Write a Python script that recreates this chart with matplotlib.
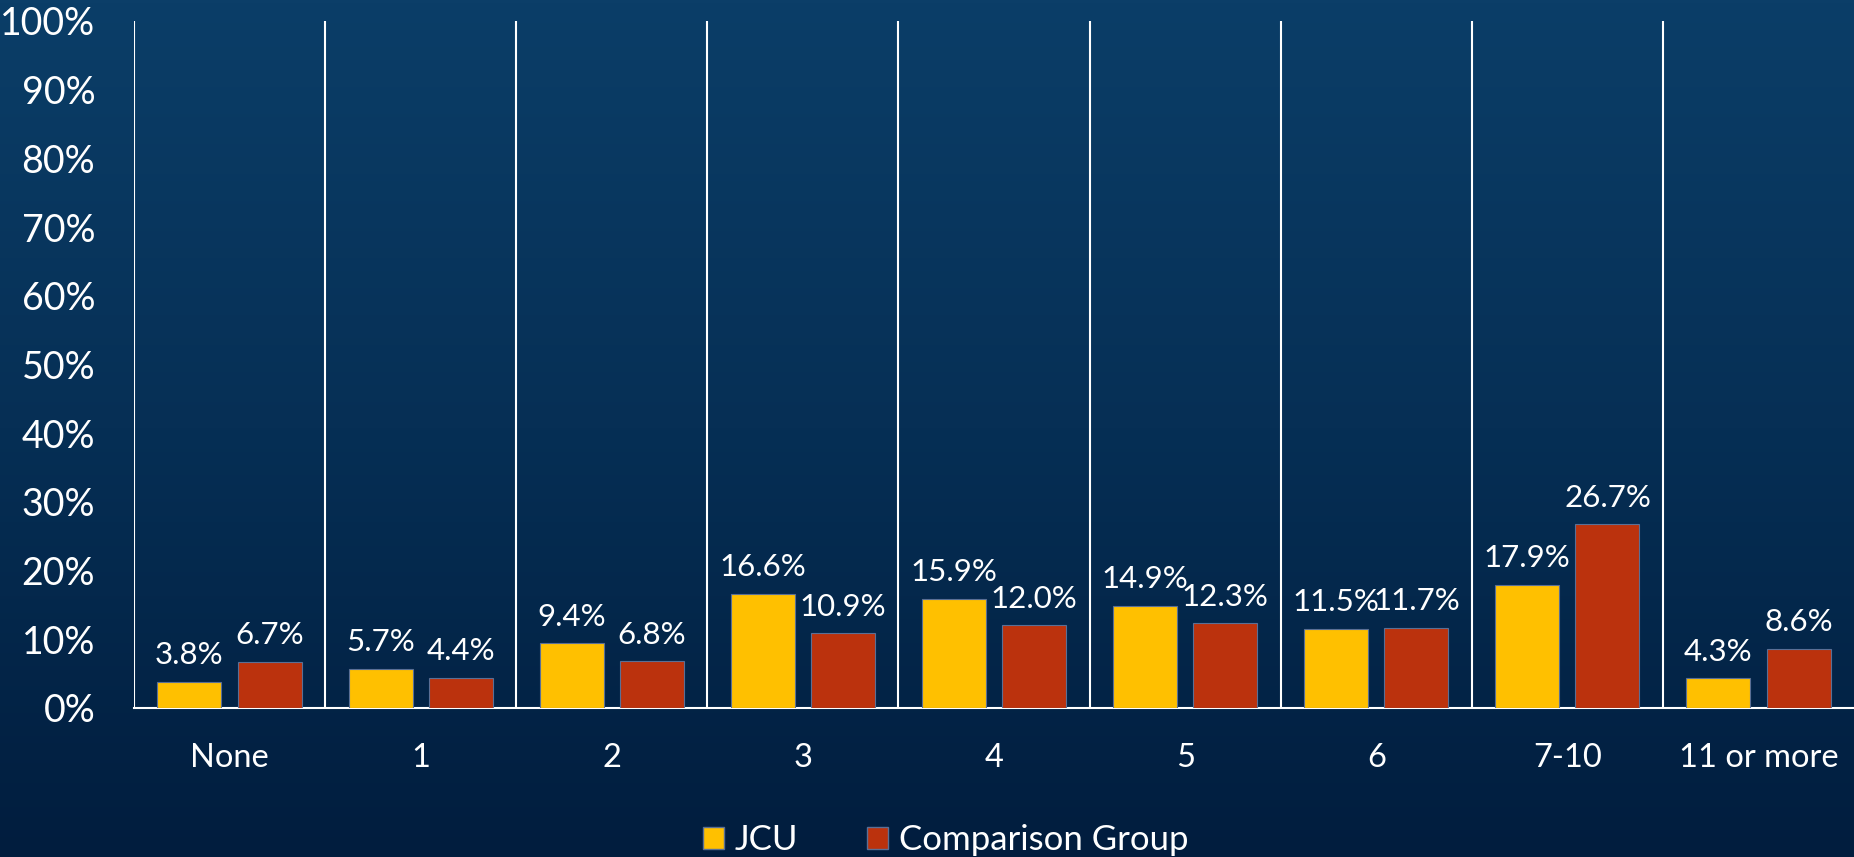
import matplotlib
matplotlib.use("Agg")
import matplotlib.pyplot as plt
import numpy as np
from matplotlib.patches import Patch
from matplotlib.colors import LinearSegmentedColormap

categories = ["None", "1", "2", "3", "4", "5", "6", "7-10", "11 or more"]
jcu = [3.8, 5.7, 9.4, 16.6, 15.9, 14.9, 11.5, 17.9, 4.3]
comparison = [6.7, 4.4, 6.8, 10.9, 12.0, 12.3, 11.7, 26.7, 8.6]
series_names = ["JCU", "Comparison Group"]
yticks = list(range(0, 101, 10))

plt.rcParams['font.family'] = ['Lato', 'DejaVu Sans']

fig = plt.figure(figsize=(18.54, 8.57), dpi=100)

# gradient background
bg = fig.add_axes([0, 0, 1, 1], zorder=-10)
grad = np.linspace(0, 1, 256).reshape(-1, 1)
cmap = LinearSegmentedColormap.from_list("bg", ["#0b3e68", "#062f55", "#011d3e"])
bg.imshow(grad, aspect="auto", cmap=cmap, extent=[0, 1, 0, 1], origin="upper")
bg.axis("off")

ax = fig.add_axes([0.0723, 0.174, 0.9277, 0.8015])
ax.set_facecolor("none")

x = np.arange(len(categories))
w = 0.335
off = 0.21
yellow = "#FFC000"
red = "#BB320D"
b1 = ax.bar(x - off, jcu, w, color=yellow, edgecolor="#5a6f95", linewidth=0.8, zorder=3)
b2 = ax.bar(x + off, comparison, w, color=red, edgecolor="#5a6f95", linewidth=0.8, zorder=3)

for bars, vals in ((b1, jcu), (b2, comparison)):
    for b, v in zip(bars, vals):
        ax.annotate(f"{v:.1f}%", (b.get_x() + b.get_width() / 2, v),
                    xytext=(0, 9), textcoords="offset points",
                    ha="center", va="bottom", color="white", fontsize=22.5)

ax.set_xlim(-0.5, len(categories) - 0.5)
ax.set_ylim(0, 100)
ax.set_yticks(yticks)
ax.set_yticklabels([f"{t}%" for t in yticks])
ax.set_xticks(x)
ax.set_xticklabels(categories)
ax.tick_params(axis="y", length=0, pad=28, labelsize=27, labelcolor="white")
ax.tick_params(axis="x", length=0, pad=25, labelsize=23.5, labelcolor="white")

for s in ("top", "right", "left"):
    ax.spines[s].set_visible(False)
ax.spines["bottom"].set_color("white")
ax.spines["bottom"].set_linewidth(1.5)

for i in range(len(categories)):
    ax.axvline(i - 0.5, color="white", linewidth=1.5, zorder=2)

handles = [Patch(facecolor=yellow, edgecolor="#5a6f95"), Patch(facecolor=red, edgecolor="#5a6f95")]
leg = fig.legend(handles, series_names, loc="center", bbox_to_anchor=(0.51, 0.02), ncol=2,
                 frameon=False, fontsize=25, labelcolor="white", handlelength=0.6,
                 handleheight=0.6, handletextpad=0.3, columnspacing=2.0)

fig.savefig("out.png", dpi=100)
